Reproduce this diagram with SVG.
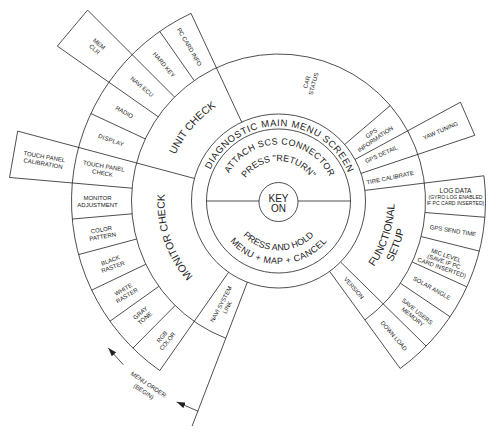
<svg xmlns="http://www.w3.org/2000/svg" width="496" height="437" viewBox="0 0 496 437">
<style>
.ln{fill:none;stroke:#222;stroke-width:0.8}
text{font-family:"Liberation Sans",Arial,sans-serif;fill:#222;text-anchor:middle}
.s6{font-size:6px}
.s65{font-size:6.5px}
.s5{font-size:5.1px}
.big{font-size:10.5px}
.mid{font-size:9.5px}
.sm{font-size:9px}
</style>
<defs>
<marker id="ah" markerUnits="userSpaceOnUse" markerWidth="9" markerHeight="6" refX="8.5" refY="3" orient="auto">
<path d="M0,0 L8.5,3 L0,6 z" fill="#222"/>
</marker>
<path id="pDiag" d="M205.01,186.05 A75,75 0 0 1 352.68,189.91"/>
<path id="pAttach" d="M223.20,189.26 A56.5,56.5 0 0 1 334.45,193.14"/>
<path id="pPress" d="M239.11,194.05 A40,40 0 0 1 317.89,194.05"/>
<path id="pHold" d="M229.75,209.60 A49.5,49.5 0 0 0 327.25,209.60"/>
<path id="pMenu" d="M216.46,211.94 A63,63 0 0 0 340.54,211.94"/>
<path id="pUnit" d="M191.43,273.03 A113,113 0 0 1 335.68,103.54"/>
<path id="pMon" d="M296.33,313.60 A114,114 0 0 1 223.23,101.29"/>
<path id="pFunc" d="M262.36,315.87 A116,116 0 0 0 332.96,98.58"/>
<path id="pSetup" d="M254.99,327.84 A129,129 0 0 0 343.97,89.85"/>
</defs>

<g id="frame" class="ln">
<circle cx="278.5" cy="202" r="19.5"/>
<circle cx="278.5" cy="201" r="72"/>
<circle cx="278.5" cy="201" r="87"/>
<path d="M364.90,319.93 A147,147 0 1 0 225.82,338.24"/>
<path d="M191.02,13.39 A207,207 0 0 0 159.77,370.56"/>
<path d="M400.17,368.47 A207,207 0 0 0 483.96,175.77"/>
<path d="M474.80,135.32 L460.42,102.23"/>
<path d="M87.58,10.08 L57.33,46.13"/>
<path d="M17.70,131.12 L9.53,177.47"/>
<path d="M206.5,201 H259 M298,201 H350.5"/>
<path d="M364.85,190.40 L483.96,175.77"/>
<path d="M361.00,173.40 L474.80,135.32"/>
<path d="M354.96,159.49 L460.42,102.23"/>
<path d="M344.66,144.50 L390.28,105.53"/>
<path d="M241.73,122.15 L191.02,13.39"/>
<path d="M194.19,80.58 L159.77,31.44"/>
<path d="M174.55,97.05 L87.58,10.08"/>
<path d="M158.09,116.68 L57.33,46.13"/>
<path d="M145.27,138.87 L90.89,113.52"/>
<path d="M194.46,178.48 L17.70,131.12"/>
<path d="M132.06,188.19 L9.53,177.47"/>
<path d="M132.06,213.81 L72.28,219.04"/>
<path d="M136.51,239.05 L78.55,254.58"/>
<path d="M145.82,264.28 L91.66,290.12"/>
<path d="M158.82,286.36 L109.98,321.20"/>
<path d="M175.10,305.49 L132.90,348.14"/>
<path d="M228.60,272.27 L159.77,370.56"/>
<path d="M247.32,282.22 L192.13,426.00"/>
<path d="M329.64,271.38 L400.17,368.47"/>
<path d="M340.55,261.98 L426.14,346.09"/>
<path d="M400.37,283.20 L450.11,316.75"/>
<path d="M412.26,261.96 L466.86,286.84"/>
<path d="M421.13,236.56 L479.35,251.08"/>
<path d="M425.05,212.53 L484.86,217.24"/>
</g>

<g id="connectors" class="ln">
<path d="M123.3,364.7 L108.3,348" marker-end="url(#ah)"/>
<path d="M198.3,411.3 L176.7,402" marker-end="url(#ah)"/>
</g>

<g id="key-on"><text style="font-size:10px" x="278.5" y="201.5">KEY</text><text style="font-size:10px" x="278.5" y="211.7">ON</text></g>
<g id="diag-main-menu"><text class="mid" letter-spacing="0.6"><textPath href="#pDiag" startOffset="50%">DIAGNOSTIC MAIN MENU SCREEN</textPath></text></g>
<g id="attach-scs"><text class="sm" letter-spacing="0.4"><textPath href="#pAttach" startOffset="50%">ATTACH SCS CONNECTOR</textPath></text>
<text class="sm"><textPath href="#pPress" startOffset="50%">PRESS "RETURN"</textPath></text></g>
<g id="press-hold"><text class="sm"><textPath href="#pHold" startOffset="50%">PRESS AND HOLD</textPath></text>
<text class="sm" letter-spacing="0.4"><textPath href="#pMenu" startOffset="50%">MENU + MAP + CANCEL</textPath></text></g>

<g id="unit-check"><text class="big"><textPath href="#pUnit" startOffset="50%">UNIT CHECK</textPath></text></g>
<g id="monitor-check"><text class="big"><textPath href="#pMon" startOffset="50%">MONITOR CHECK</textPath></text></g>
<g id="functional-setup"><text class="big"><textPath href="#pFunc" startOffset="50%">FUNCTIONAL</textPath></text>
<text class="big"><textPath href="#pSetup" startOffset="50%">SETUP</textPath></text></g>
<g id="car-status" transform="translate(310,83) rotate(-75)"><text class="s6" y="-1.3">CAR</text><text class="s6" y="5.7">STATUS</text></g>
<g id="gps-information" transform="translate(373.3,136) rotate(-34.5)"><text class="s6" y="-1.3">GPS</text><text class="s6" y="5.7">INFORMATION</text></g>
<g id="gps-detail" transform="translate(381.3,154.1) rotate(-24.5)"><text class="s6" y="2.2">GPS DETAIL</text></g>
<g id="tire-calibrate" transform="translate(390.1,177.5) rotate(-11.8)"><text class="s6" y="2.2">TIRE CALIBRATE</text></g>
<g id="version" transform="translate(354,288) rotate(49)"><text class="s6" y="2.2">VERSION</text></g>
<g id="navi-system-link" transform="translate(224,305.7) rotate(-62)"><text class="s6" y="-1.3">NAVI SYSTEM</text><text class="s6" y="5.7">LINK</text></g>

<g id="pc-card-info" transform="translate(189.5,46.9) rotate(60)"><text class="s6" y="2.2">PC CARD INFO</text></g>
<g id="hard-key" transform="translate(164.1,64.6) rotate(50)"><text class="s6" y="2.2">HARD KEY</text></g>
<g id="navi-ecu" transform="translate(142.1,86.6) rotate(40)"><text class="s6" y="2.2">NAVI ECU</text></g>
<g id="radio" transform="translate(124.4,112) rotate(30)"><text class="s6" y="2.2">RADIO</text></g>
<g id="display" transform="translate(111.2,140.1) rotate(20)"><text class="s6" y="2.2" letter-spacing="0.3">DISPLAY</text></g>
<g id="touch-panel-check" transform="translate(103.2,169.5) rotate(10)"><text class="s6" y="-1.3">TOUCH PANEL</text><text class="s6" y="5.7">CHECK</text></g>
<g id="monitor-adjustment" transform="translate(97.5,201.5)"><text class="s6" y="-1.3">MONITOR</text><text class="s6" y="5.7">ADJUSTMENT</text></g>
<g id="color-pattern" transform="translate(102,233) rotate(-10)"><text class="s6" y="-1.3">COLOR</text><text class="s6" y="5.7">PATTERN</text></g>
<g id="black-raster" transform="translate(111.6,263.5) rotate(-20.25)"><text class="s6" y="-1.3">BLACK</text><text class="s6" y="5.7">RASTER</text></g>
<g id="white-raster" transform="translate(125,292.3) rotate(-30.5)"><text class="s6" y="-1.3">WHITE</text><text class="s6" y="5.7">RASTER</text></g>
<g id="gray-tone" transform="translate(142.5,315.5) rotate(-40.4)"><text class="s6" y="-1.3">GRAY</text><text class="s6" y="5.7">TONE</text></g>
<g id="rgb-color" transform="translate(164.7,339) rotate(-50.1)"><text class="s6" y="-1.3">RGB</text><text class="s6" y="5.7">COLOR</text></g>
<g id="mem-clr" transform="translate(97,46.5) rotate(40)"><text class="s6" y="-1.3">MEM</text><text class="s6" y="5.7">CLR</text></g>
<g id="touch-panel-calibration" transform="translate(43.7,160) rotate(10)"><text class="s6" y="-1.3">TOUCH PANEL</text><text class="s6" y="5.7">CALIBRATION</text></g>

<g id="down-load" transform="translate(394,335.7) rotate(49.3)"><text class="s6" y="2.2">DOWN LOAD</text></g>
<g id="save-users-memory" transform="translate(415,314) rotate(39.3)"><text class="s6" y="-1.3">SAVE USERS</text><text class="s6" y="5.7">MEMORY</text></g>
<g id="solar-angle" transform="translate(432,288) rotate(29.3)"><text class="s6" y="2.2">SOLAR ANGLE</text></g>
<g id="mic-level" transform="translate(444,261.5) rotate(19.3)"><text class="s6" y="-4.35">MIC LEVEL</text><text class="s6" y="2.15">(SAVE IF PC</text><text class="s6" y="8.65">CARD INSERTED)</text></g>
<g id="gps-send-time" transform="translate(453,230.5) rotate(9.3)"><text class="s6" y="2.2">GPS SEND TIME</text></g>
<g id="log-data"><text class="s65" x="455.5" y="193.3">LOG DATA</text><text class="s5" x="455.5" y="199.3">(GYRO LOG ENABLED</text><text class="s5" x="455.5" y="205.3">IF PC CARD INSERTED)</text></g>
<g id="yaw-tuning" transform="translate(440.5,130.5) rotate(-23.5)"><text class="s6" y="2.2">YAW TUNING</text></g>

<g id="menu-order" transform="translate(146,388) rotate(34)"><text class="s6" y="-2.3">MENU ORDER</text><text class="s6" y="6.3">(BEGIN)</text></g>
</svg>
